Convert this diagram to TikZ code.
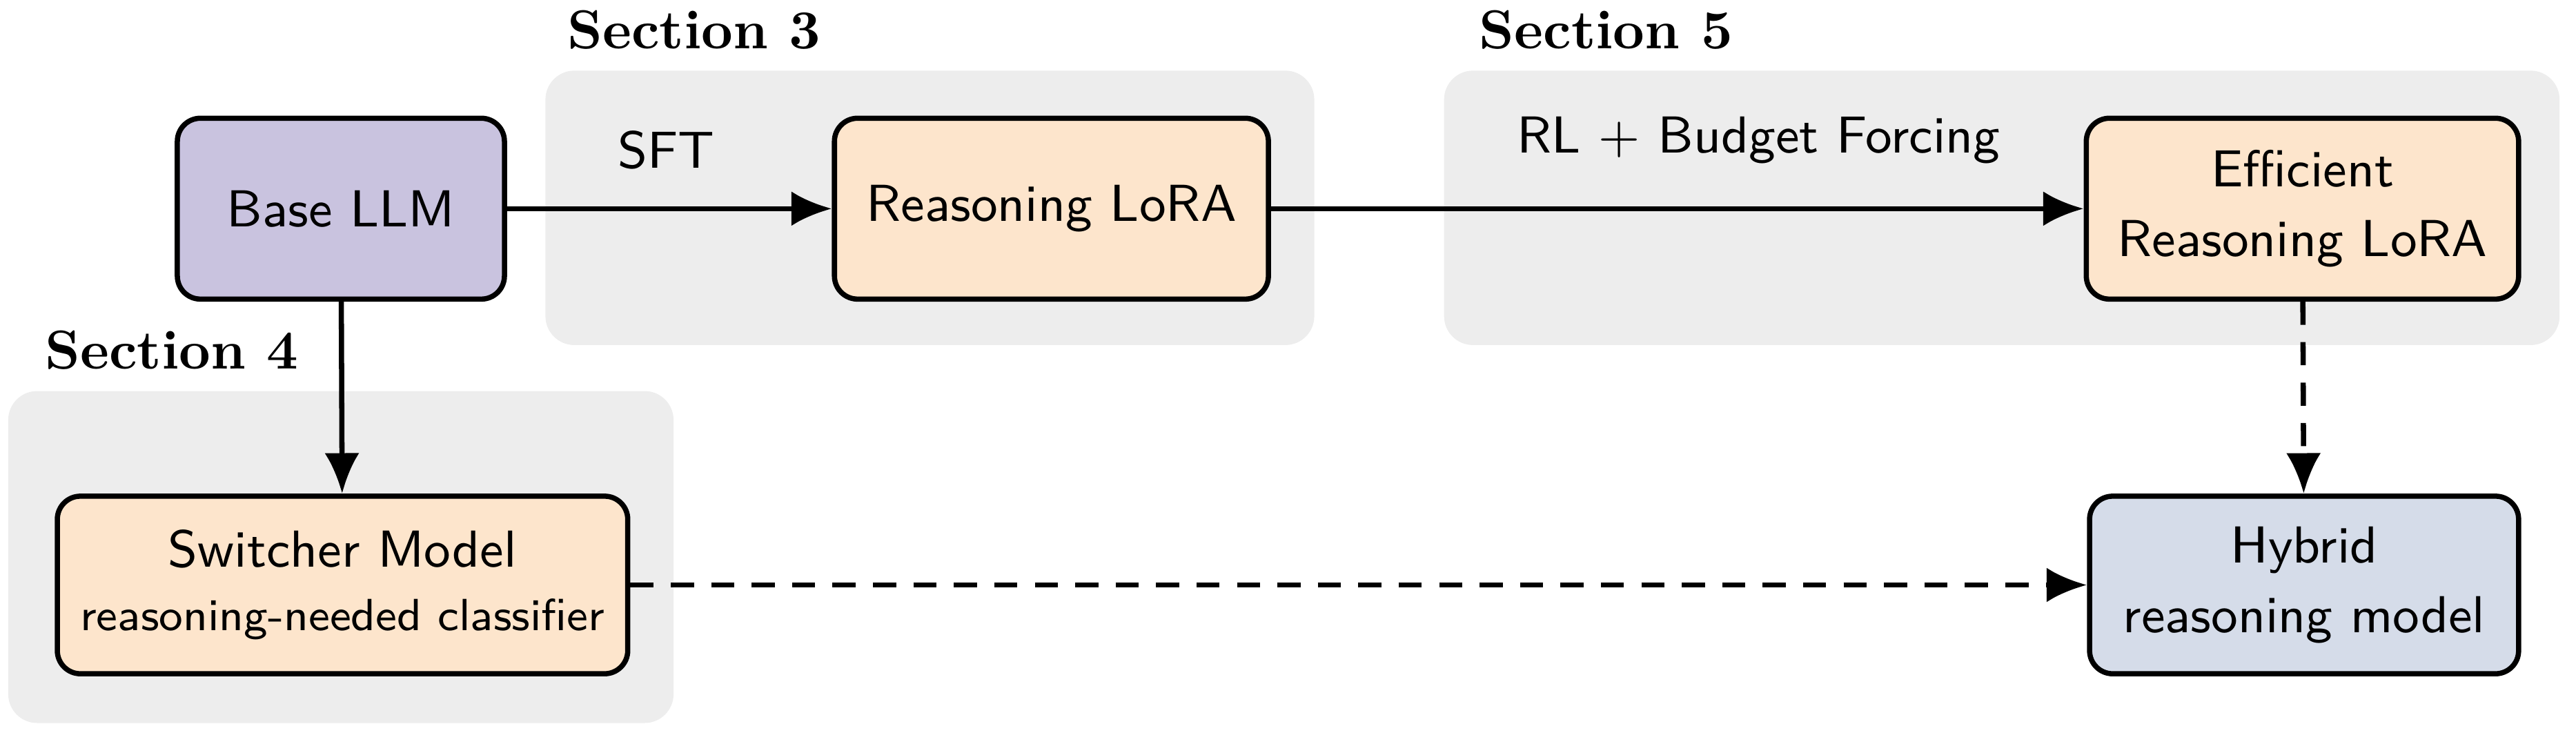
\documentclass[tikz,border=0pt]{standalone}
\usetikzlibrary{arrows.meta}
\begin{document}
\begin{tikzpicture}[x=0.01cm,y=-0.01cm,
  box/.style={draw=black,line width=0.9pt,rounded corners=4pt,align=center,font=\sffamily\fontsize{9}{12}\selectfont},
  bg/.style={fill=black!7,rounded corners=5pt},
  sec/.style={font=\bfseries\fontsize{9.5}{11}\selectfont,anchor=west},
  arr/.style={line width=0.9pt,-{Latex[length=7pt,width=6pt]}},
  dashedarr/.style={arr,dash pattern=on 4pt off 3pt},
  lbl/.style={font=\sffamily\fontsize{9}{11}\selectfont}]
\useasboundingbox (0,0) rectangle (1568,446);
\fill[bg] (332,43) rectangle (800,210);
\fill[bg] (879,43) rectangle (1558,210);
\fill[bg] (5,238) rectangle (410,440);
\node[sec] (s3) at (333,18) {Section 3};
\node[sec] (s5) at (888,18) {Section 5};
\node[sec] (s4) at (15,213) {Section 4};
\definecolor{purp}{HTML}{C9C3DF}
\definecolor{peach}{HTML}{FDE5CC}
\definecolor{bluey}{HTML}{D5DCE9}
\node[box,fill=purp,minimum width=1.99cm,minimum height=1.1cm] (base) at (207.5,127) {Base LLM};
\node[box,fill=peach,minimum width=2.64cm,minimum height=1.1cm] (rl) at (640,127) {Reasoning LoRA};
\node[box,fill=peach,minimum width=2.63cm,minimum height=1.1cm] (erl) at (1401.5,127) {Efficient\\Reasoning LoRA};
\node[box,fill=peach,minimum width=3.47cm,minimum height=1.08cm] (sw) at (208.5,356) {Switcher Model\\[-1pt]{\fontsize{7.8}{10}\selectfont reasoning-needed classifier}};
\node[box,fill=bluey,minimum width=2.61cm,minimum height=1.08cm] (hy) at (1402.5,356) {Hybrid\\reasoning model};
\draw[arr] (base) -- node[lbl,above=3pt,pos=0.49] {SFT} (rl);
\draw[arr] (rl) -- node[lbl,above=4pt,pos=0.6] {RL + Budget Forcing} (erl);
\draw[arr] (base) -- (sw);
\draw[dashedarr] (erl) -- (hy);
\draw[dashedarr] (sw) -- (hy);
\end{tikzpicture}
\end{document}
